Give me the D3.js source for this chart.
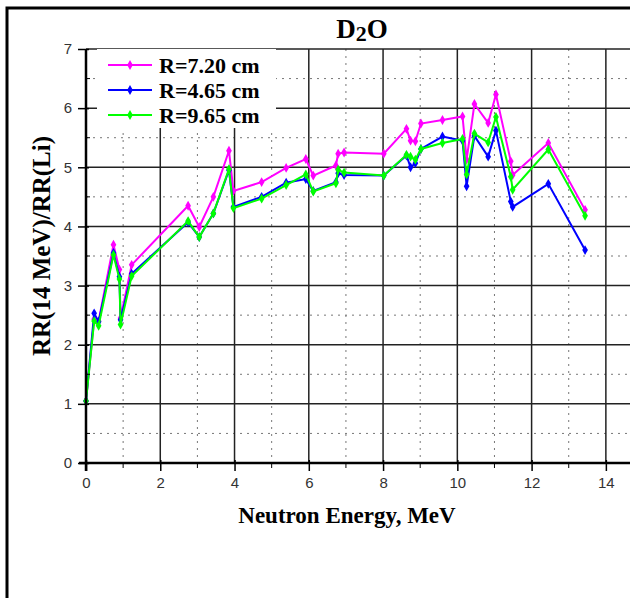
<!DOCTYPE html>
<html>
<head>
<meta charset="utf-8">
<script src="https://cdn.jsdelivr.net/npm/d3@7"></script>
<style>
  body { margin: 0; background: #fff; }
  .tick text { font-family: "Liberation Sans", Arial, sans-serif; fill: #333; }
</style>
</head>
<body>
<script>
// Neutron energies (MeV) shared by all three series
var energy = [0, 0.22, 0.34, 0.74, 0.9, 0.93, 1.23, 2.75, 3.05, 3.43, 3.85, 3.97, 4.73, 5.39, 5.92,
              6.12, 6.73, 6.79, 6.95, 8.02, 8.63, 8.74, 8.87, 9.02, 9.6, 10.14, 10.25, 10.46,
              10.83, 11.04, 11.44, 11.49, 12.45, 13.44];

var r720 = [1.05, 2.43, 2.40, 3.69, 3.27, 2.45, 3.35, 4.35, 3.99, 4.50, 5.28, 4.60, 4.75, 4.99, 5.14,
            4.86, 5.03, 5.23, 5.25, 5.23, 5.65, 5.45, 5.44, 5.74, 5.80, 5.86, 5.13, 6.07,
            5.75, 6.23, 5.10, 4.87, 5.41, 4.28];
var r465 = [1.05, 2.53, 2.39, 3.55, 3.15, 2.42, 3.20, 4.07, 3.82, 4.22, 4.95, 4.33, 4.50, 4.74, 4.80,
            4.60, 4.75, 4.90, 4.87, 4.86, 5.20, 5.00, 5.07, 5.31, 5.52, 5.45, 4.68, 5.53,
            5.18, 5.62, 4.42, 4.33, 4.72, 3.60];
var r965 = [1.05, 2.40, 2.32, 3.52, 3.11, 2.34, 3.16, 4.09, 3.82, 4.22, 4.97, 4.31, 4.47, 4.70, 4.88,
            4.59, 4.73, 4.96, 4.91, 4.86, 5.21, 5.18, 5.13, 5.31, 5.41, 5.48, 4.88, 5.57,
            5.42, 5.85, 4.84, 4.62, 5.30, 4.18];

var seriesNames = ["R=7.20 cm", "R=4.65 cm", "R=9.65 cm"];
var seriesColors = ["#ff00ff", "#0000ff", "#00ff00"];
var seriesValues = [r720, r465, r965];

var xTicks = [0, 2, 4, 6, 8, 10, 12, 14];
var yTicks = [0, 1, 2, 3, 4, 5, 6, 7];

var width = 630, height = 598;

var svg = d3.select("body").append("svg")
    .attr("width", width)
    .attr("height", height);

svg.append("rect").attr("width", width).attr("height", height).attr("fill", "#fff");

// outer frame
svg.append("rect")
    .attr("x", 7).attr("y", 8)
    .attr("width", 700).attr("height", 700)
    .attr("fill", "none").attr("stroke", "#000").attr("stroke-width", 3);

var x = d3.scaleLinear().domain([0, 15]).range([86, 643]),
    y = d3.scaleLinear().domain([0, 7]).range([463, 49]);

// minor grid (dotted)
var grid = svg.append("g");
grid.selectAll(".vminor").data(d3.range(1, 15, 2)).enter().append("line")
    .attr("x1", x).attr("x2", x).attr("y1", y(7)).attr("y2", y(0))
    .attr("stroke", "#777").attr("stroke-dasharray", "2,5");
grid.selectAll(".hminor").data(d3.range(0.5, 7, 1)).enter().append("line")
    .attr("x1", x(0)).attr("x2", width).attr("y1", y).attr("y2", y)
    .attr("stroke", "#777").attr("stroke-dasharray", "2,5");

// major grid
grid.selectAll(".vmajor").data(xTicks.slice(1)).enter().append("line")
    .attr("x1", x).attr("x2", x).attr("y1", y(7)).attr("y2", y(0))
    .attr("stroke", "#222").attr("stroke-width", 1.5);
grid.selectAll(".hmajor").data(yTicks.slice(1)).enter().append("line")
    .attr("x1", x(0)).attr("x2", width).attr("y1", y).attr("y2", y)
    .attr("stroke", "#222").attr("stroke-width", 1.5);

// legend background hides the grid
svg.append("rect")
    .attr("x", 97).attr("y", 49).attr("width", 179).attr("height", 79)
    .attr("fill", "#fff");

// series
var line = d3.line()
    .x(function(d) { return x(d[0]); })
    .y(function(d) { return y(d[1]); });

var marker = d3.symbol().type(d3.symbolDiamond).size(28);

seriesValues.forEach(function(vals, i) {
  var data = vals.map(function(v, j) { return [energy[j], v]; });
  var g = svg.append("g");
  g.append("path")
      .datum(data)
      .attr("fill", "none")
      .attr("stroke", seriesColors[i])
      .attr("stroke-width", 2)
      .attr("d", line);
  g.selectAll("path.pt").data(data).enter().append("path")
      .attr("class", "pt")
      .attr("d", marker)
      .attr("transform", function(d) { return "translate(" + x(d[0]) + "," + y(d[1]) + ")"; })
      .attr("fill", seriesColors[i]);
});

// legend
var legend = svg.append("g");
seriesNames.forEach(function(name, i) {
  var ly = 65 + i * 25;
  legend.append("line")
      .attr("x1", 108).attr("x2", 152).attr("y1", ly).attr("y2", ly)
      .attr("stroke", seriesColors[i]).attr("stroke-width", 2);
  legend.append("path")
      .attr("d", marker)
      .attr("transform", "translate(130," + ly + ")")
      .attr("fill", seriesColors[i]);
  legend.append("text")
      .attr("x", 159).attr("y", ly + 8)
      .style("font-family", "'Liberation Serif', 'Times New Roman', serif")
      .style("font-size", "22px")
      .style("font-weight", "bold")
      .text(name);
});

// y axis
var yAxis = svg.append("g")
    .attr("transform", "translate(" + x(0) + ",0)")
    .call(d3.axisLeft(y).tickValues(yTicks).tickFormat(d3.format("d")).tickSize(8).tickPadding(6));
yAxis.select(".domain").remove();
yAxis.selectAll(".tick line").attr("x2", 3).attr("x1", -8).attr("stroke-width", 1.5);
yAxis.selectAll(".tick text").style("font-size", "15px");
yAxis.selectAll(".minor").data(d3.range(0.5, 7, 1)).enter().append("line")
    .attr("x1", 0).attr("x2", 4).attr("y1", y).attr("y2", y)
    .attr("stroke", "#000");
yAxis.append("line")
    .attr("x1", 0).attr("x2", 0).attr("y1", y(7)).attr("y2", y(0) + 8)
    .attr("stroke", "#000").attr("stroke-width", 2.5);

// x axis
var xAxis = svg.append("g")
    .attr("transform", "translate(0," + y(0) + ")")
    .call(d3.axisBottom(x).tickValues(xTicks).tickFormat(d3.format("d")).tickSize(8).tickPadding(6));
xAxis.select(".domain").remove();
xAxis.selectAll(".tick line").attr("y1", -3).attr("stroke-width", 1.5);
xAxis.selectAll(".tick text").style("font-size", "15px");
xAxis.selectAll(".minor").data(d3.range(1, 15, 2)).enter().append("line")
    .attr("x1", x).attr("x2", x).attr("y1", 0).attr("y2", 5)
    .attr("stroke", "#000");
xAxis.append("line")
    .attr("x1", x(0) - 7).attr("x2", width).attr("y1", 0).attr("y2", 0)
    .attr("stroke", "#000").attr("stroke-width", 2.5);

// title
var title = svg.append("text")
    .attr("x", 362).attr("y", 38)
    .attr("text-anchor", "middle")
    .style("font-family", "'Liberation Serif', 'Times New Roman', serif")
    .style("font-size", "27px")
    .style("font-weight", "bold");
title.append("tspan").text("D");
title.append("tspan").attr("dy", 3).style("font-size", "22px").text("2");
title.append("tspan").attr("dy", -3).text("O");

// axis titles
svg.append("text")
    .attr("x", 347).attr("y", 523)
    .attr("text-anchor", "middle")
    .style("font-family", "'Liberation Serif', 'Times New Roman', serif")
    .style("font-size", "23px")
    .style("font-weight", "bold")
    .text("Neutron Energy, MeV");

svg.append("text")
    .attr("transform", "translate(50,246) rotate(-90)")
    .attr("text-anchor", "middle")
    .style("font-family", "'Liberation Serif', 'Times New Roman', serif")
    .style("font-size", "25px")
    .style("font-weight", "bold")
    .text("RR(14 MeV)/RR(Li)");
</script>
</body>
</html>
